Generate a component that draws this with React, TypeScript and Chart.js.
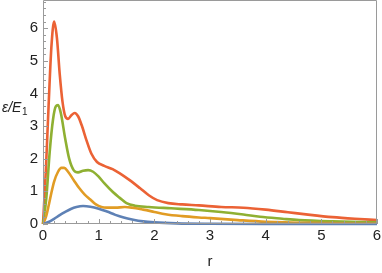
import React, { useEffect, useRef } from "react";
import { Chart, registerables } from "chart.js";

Chart.register(...registerables);

const blueR = [0, 0.1, 0.2, 0.3, 0.4, 0.5, 0.6, 0.72, 0.85, 1.0, 1.15, 1.3, 1.45, 1.6, 1.8, 2.0, 2.4, 3.0, 4.0, 6.0];
const blueE = [0, 0.06, 0.16, 0.27, 0.37, 0.46, 0.52, 0.55, 0.53, 0.47, 0.38, 0.28, 0.2, 0.14, 0.08, 0.05, 0.02, 0.006, 0.001, 0];

const orangeR = [0, 0.05, 0.1, 0.15, 0.2, 0.27, 0.33, 0.38, 0.45, 0.55, 0.65, 0.75, 0.85, 0.95, 1.05, 1.15, 1.3, 1.47, 1.6, 1.8, 2.0, 2.2, 2.5, 2.8, 3.0, 3.5, 4.0, 5.0, 6.0];
const orangeE = [0, 0.2, 0.55, 0.95, 1.3, 1.6, 1.72, 1.72, 1.6, 1.35, 1.1, 0.9, 0.75, 0.6, 0.52, 0.5, 0.5, 0.52, 0.5, 0.44, 0.37, 0.3, 0.24, 0.2, 0.18, 0.12, 0.07, 0.03, 0.01];

const greenR = [0, 0.06, 0.12, 0.18, 0.23, 0.27, 0.32, 0.4, 0.47, 0.55, 0.63, 0.72, 0.81, 0.9, 1.0, 1.1, 1.26, 1.38, 1.5, 1.65, 1.9, 2.3, 2.8, 3.2, 3.6, 3.9, 4.3, 4.6, 5.2, 6.0];
const greenE = [0, 0.8, 2.2, 3.2, 3.6, 3.64, 3.4, 2.6, 2.0, 1.65, 1.58, 1.63, 1.65, 1.6, 1.45, 1.25, 0.97, 0.8, 0.64, 0.56, 0.52, 0.48, 0.43, 0.37, 0.29, 0.22, 0.16, 0.12, 0.08, 0.05];

const redR = [0, 0.05, 0.1, 0.15, 0.2, 0.25, 0.3, 0.35, 0.4, 0.45, 0.51, 0.57, 0.63, 0.7, 0.78, 0.87, 0.97, 1.1, 1.25, 1.38, 1.55, 1.74, 1.9, 2.05, 2.25, 2.5, 2.8, 3.2, 3.6, 4.0, 4.4, 4.8, 5.2, 5.6, 6.0];
const redE = [0, 1.6, 3.6, 5.4, 6.2, 5.7, 4.6, 3.75, 3.3, 3.22, 3.33, 3.4, 3.3, 3.0, 2.57, 2.15, 1.9, 1.78, 1.68, 1.55, 1.35, 1.1, 0.88, 0.73, 0.64, 0.6, 0.57, 0.52, 0.5, 0.44, 0.36, 0.28, 0.21, 0.16, 0.12];

const xTicks = [0, 1, 2, 3, 4, 5, 6];
const yTicks = [0, 1, 2, 3, 4, 5, 6];
const xTitle = "r";
const yTitleMain = "ε/E";
const yTitleSub = "1";

const pts = (r: number[], e: number[]) => r.map((x, i) => ({ x, y: e[i] }));

const FONT = "'Liberation Sans', Arial, sans-serif";
const FRAME = "#9a9a9a";
const TEXT = "#222";

const framePlugin = {
  id: "frame",
  afterDraw(chart: any) {
    const { ctx, chartArea: a, scales } = chart;
    const xs = scales.x;
    const ys = scales.y;
    ctx.save();
    ctx.strokeStyle = FRAME;
    ctx.lineWidth = 1;
    ctx.beginPath();
    ctx.rect(a.left + 0.5, a.top + 0.5, a.right - a.left - 1, a.bottom - a.top - 1);
    ctx.stroke();
    ctx.beginPath();
    for (let i = 0; i <= 30; i++) {
      const v = i * 0.2;
      const px = Math.round(xs.getPixelForValue(v)) + 0.5;
      const len = i % 5 === 0 ? 5 : 3;
      ctx.moveTo(px, a.bottom);
      ctx.lineTo(px, a.bottom - len);
    }
    for (let i = 0; i <= 34; i++) {
      const v = i * 0.2;
      if (v > ys.max) break;
      const py = Math.round(ys.getPixelForValue(v)) + 0.5;
      const len = i % 5 === 0 ? 5 : 3;
      ctx.moveTo(a.left, py);
      ctx.lineTo(a.left + len, py);
    }
    ctx.stroke();
    ctx.fillStyle = TEXT;
    ctx.textBaseline = "middle";
    ctx.textAlign = "center";
    ctx.font = `15px ${FONT}`;
    ctx.fillText(xTitle, (a.left + a.right) / 2, 262);
    ctx.textAlign = "left";
    ctx.font = `italic 14px ${FONT}`;
    const yMid = 108;
    ctx.fillText(yTitleMain, 2, yMid);
    const w = ctx.measureText(yTitleMain).width;
    ctx.font = `10px ${FONT}`;
    ctx.fillText(yTitleSub, 2 + w + 0.5, yMid + 4);
    ctx.restore();
  },
};

export default function App() {
  const ref = useRef<HTMLCanvasElement>(null);
  useEffect(() => {
    document.body.style.margin = "0";
    const ds = (label: string, r: number[], e: number[], color: string) => ({
      label,
      data: pts(r, e),
      borderColor: color,
      backgroundColor: color,
      borderWidth: 2.6,
      pointRadius: 0,
      cubicInterpolationMode: "monotone" as const,
      fill: false,
      clip: 3,
    });
    const chart = new Chart(ref.current!, {
      type: "line",
      data: {
        datasets: [
          ds("n1", blueR, blueE, "#5e81b5"),
          ds("n2", orangeR, orangeE, "#e19c24"),
          ds("n3", greenR, greenE, "#8fb032"),
          ds("n4", redR, redE, "#eb6235"),
        ],
      },
      plugins: [framePlugin],
      options: {
        animation: false,
        responsive: false,
        maintainAspectRatio: false,
        layout: { padding: { top: 0, right: 5, left: 0, bottom: 0 } },
        plugins: { legend: { display: false }, tooltip: { enabled: false } },
        scales: {
          x: {
            type: "linear",
            min: 0,
            max: 6,
            grid: { display: false, drawTicks: false },
            border: { display: false },
            afterFit: (s: any) => { s.height = 49; s.paddingLeft = 0; s.paddingRight = 0; },
            afterBuildTicks: (s: any) => { s.ticks = xTicks.map((v) => ({ value: v })); },
            ticks: { padding: 3, color: TEXT, font: { family: FONT, size: 15 }, maxRotation: 0 },
          },
          y: {
            type: "linear",
            min: 0,
            max: 6.86,
            grid: { display: false, drawTicks: false },
            border: { display: false },
            afterFit: (s: any) => { s.width = 43; s.paddingTop = 0; s.paddingBottom = 0; },
            afterBuildTicks: (s: any) => { s.ticks = yTicks.map((v) => ({ value: v })); },
            ticks: { padding: 5, color: TEXT, font: { family: FONT, size: 15 } },
          },
        },
      },
    });
    return () => chart.destroy();
  }, []);
  return <canvas ref={ref} width={382} height={273} style={{ display: "block" }} />;
}
